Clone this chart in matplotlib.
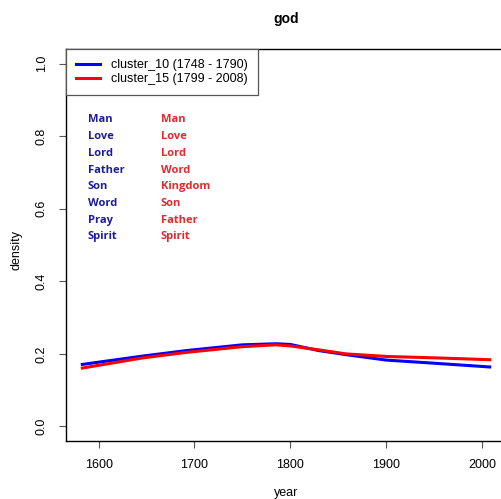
import matplotlib
matplotlib.use('Agg')
import matplotlib.pyplot as plt

plt.rcParams['font.family'] = ['Liberation Sans', 'DejaVu Sans']

# Данные
years = [1583, 1646, 1691, 1750, 1785, 1800, 1830, 1858, 1900, 1952, 2008]
density_c10 = [0.171, 0.194, 0.209, 0.225, 0.228, 0.226, 0.209, 0.198, 0.183, 0.174, 0.164]
density_c15 = [0.161, 0.189, 0.204, 0.220, 0.225, 0.222, 0.211, 0.200, 0.193, 0.189, 0.184]

label_c10 = 'cluster_10 (1748 - 1790)'
label_c15 = 'cluster_15 (1799 - 2008)'

words_c10 = ['Man', 'Love', 'Lord', 'Father', 'Son', 'Word', 'Pray', 'Spirit']
words_c15 = ['Man', 'Love', 'Lord', 'Word', 'Kingdom', 'Son', 'Father', 'Spirit']

x_ticks = [1600, 1700, 1800, 1900, 2000]
y_ticks = [0.0, 0.2, 0.4, 0.6, 0.8, 1.0]

fig = plt.figure(figsize=(5.02, 4.99), dpi=100)
ax = fig.add_axes([0.1315, 0.1162, 0.8765, 0.7856])

ax.plot(years, density_c10, color='#0000ff', lw=2.2, label=label_c10)
ax.plot(years, density_c15, color='#ff0000', lw=2.2, label=label_c15)

ax.set_xlim(1566, 2025)
ax.set_ylim(-0.04, 1.04)
ax.set_xticks(x_ticks)
ax.set_yticks(y_ticks)
ax.set_yticklabels([f'{v:.1f}' for v in y_ticks], rotation=90, va='center')
ax.tick_params(direction='out', length=5, width=0.8, labelsize=9, pad=8,
               color='#555555')

for s in ax.spines.values():
    s.set_linewidth(1.0)

# Ключевые слова для каждого кластера
for i, w in enumerate(words_c10):
    ax.text(0.049, 0.819 - i * 0.0426, w, transform=ax.transAxes,
            color='#1c1ca0', fontsize=8, fontweight='bold',
            family='Open Sans', va='center', ha='left')
for i, w in enumerate(words_c15):
    ax.text(0.215, 0.819 - i * 0.0426, w, transform=ax.transAxes,
            color='#e8262c', fontsize=8, fontweight='bold',
            family='Open Sans', va='center', ha='left')

leg = ax.legend(loc='upper left', borderaxespad=0, fancybox=False,
                edgecolor='#555555', fontsize=9, handlelength=1.9,
                handletextpad=0.9, labelspacing=0.15, borderpad=0.8,
                framealpha=1)
leg.get_frame().set_linewidth(0.9)

fig.text(0.57, 0.962, 'god', ha='center', va='center', fontsize=10,
         fontweight='bold')
fig.text(0.57, 0.012, 'year', ha='center', va='center', fontsize=9)
fig.text(0.032, 0.5, 'density', ha='center', va='center', fontsize=9,
         rotation=90)

fig.savefig('out.png', dpi=100)
